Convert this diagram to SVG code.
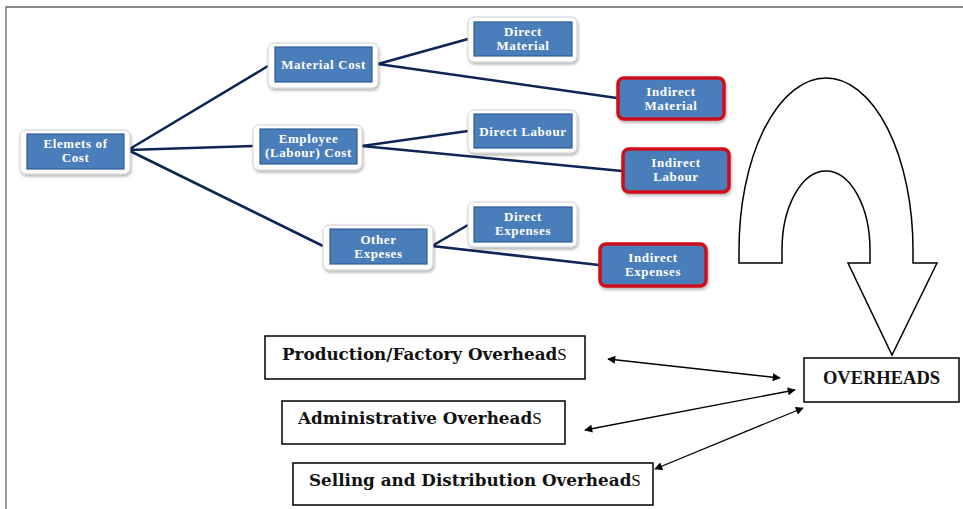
<svg xmlns="http://www.w3.org/2000/svg" width="963" height="509" viewBox="0 0 963 509">
<style>
.halo{fill:#fff;stroke:#d0d0d0;stroke-width:1;filter:url(#sh)}
.blue{fill:#4A7EBB;stroke:#2F5C92;stroke-width:1.2}
.red{fill:#4A7EBB;stroke:#D0101A;stroke-width:3.5;filter:url(#sh)}
.bt{font-family:"Liberation Serif","DejaVu Serif",serif;font-weight:bold;font-size:13px;letter-spacing:0.6px;fill:#fff;text-anchor:middle}
.tree{stroke:#0E2556;stroke-width:2.6;fill:none}
.box{fill:#fff;stroke:#000;stroke-width:1.5}
.ot{font-family:"DejaVu Serif","Liberation Serif",serif;font-weight:bold;font-size:16.8px;fill:#111}
.s{font-family:"Liberation Serif",serif;font-weight:normal;font-size:17px}
.dbl{stroke:#000;stroke-width:1.3;fill:none;marker-start:url(#ah);marker-end:url(#ah)}
</style>
<defs>
<filter id="sh" x="-20%" y="-20%" width="140%" height="150%">
<feDropShadow dx="1" dy="2" stdDeviation="1.5" flood-color="#000" flood-opacity="0.3"/>
</filter>
<marker id="ah" viewBox="0 0 10 10" refX="9" refY="5" markerWidth="10" markerHeight="8" markerUnits="userSpaceOnUse" orient="auto-start-reverse">
<path d="M0,0 L10,5 L0,10 z" fill="#000"/>
</marker>
</defs>
<rect width="963" height="509" fill="#fff"/>
<path d="M6,509 V7 H963" fill="none" stroke="#666" stroke-width="1.3"/>

<g id="connectors">
<path class="tree" d="M128,150 L268,66 M128,150 L253,146 M128,150 L323,246"/>
<path class="tree" d="M378,64 L468,39 M378,64 L617,98"/>
<path class="tree" d="M362,146 L468,131 M362,146 L622,171"/>
<path class="tree" d="M432,246 L468,225 M432,246 L599,265"/>
<line class="dbl" x1="608" y1="359" x2="780" y2="378"/>
<line class="dbl" x1="585" y1="430" x2="795" y2="390"/>
<line class="dbl" x1="655" y1="469" x2="803" y2="408"/>
</g>

<g id="elements">
<rect class="halo" x="20" y="130" width="110" height="44" rx="6"/>
<rect class="blue" x="27" y="134" width="97" height="35"/>
<text class="bt" x="75.5" y="148">Elemets of</text>
<text class="bt" x="75.5" y="162">Cost</text>
</g>
<g id="material-cost">
<rect class="halo" x="268" y="43" width="110" height="45" rx="6"/>
<rect class="blue" x="275" y="47" width="97" height="35"/>
<text class="bt" x="323.5" y="69">Material Cost</text>
</g>
<g id="employee-cost">
<rect class="halo" x="253" y="125" width="109" height="45" rx="6"/>
<rect class="blue" x="260" y="129" width="97" height="35"/>
<text class="bt" x="308.5" y="143">Employee</text>
<text class="bt" x="308.5" y="157">(Labour) Cost</text>
</g>
<g id="other-expenses">
<rect class="halo" x="323" y="225" width="110" height="45" rx="6"/>
<rect class="blue" x="330" y="229" width="97" height="35"/>
<text class="bt" x="378.5" y="244">Other</text>
<text class="bt" x="378.5" y="258">Expeses</text>
</g>
<g id="direct-material">
<rect class="halo" x="468" y="17" width="109" height="45" rx="6"/>
<rect class="blue" x="474" y="22" width="98" height="34"/>
<text class="bt" x="523" y="35.5">Direct</text>
<text class="bt" x="523" y="49.5">Material</text>
</g>
<g id="indirect-material">
<rect class="red" x="618" y="78" width="106" height="41" rx="6"/>
<text class="bt" x="671" y="95.5">Indirect</text>
<text class="bt" x="671" y="109.5">Material</text>
</g>
<g id="direct-labour">
<rect class="halo" x="468" y="110" width="109" height="43" rx="6"/>
<rect class="blue" x="474" y="114" width="98" height="34"/>
<text class="bt" x="523" y="136">Direct Labour</text>
</g>
<g id="indirect-labour">
<rect class="red" x="623" y="149" width="106" height="43" rx="6"/>
<text class="bt" x="676" y="166.5">Indirect</text>
<text class="bt" x="676" y="180.5">Labour</text>
</g>
<g id="direct-expenses">
<rect class="halo" x="468" y="202" width="109" height="45" rx="6"/>
<rect class="blue" x="474" y="207" width="98" height="35"/>
<text class="bt" x="523" y="220.5">Direct</text>
<text class="bt" x="523" y="234.5">Expenses</text>
</g>
<g id="indirect-expenses">
<rect class="red" x="600" y="244" width="106" height="42" rx="6"/>
<text class="bt" x="653" y="261.5">Indirect</text>
<text class="bt" x="653" y="275.5">Expenses</text>
</g>

<g id="u-arrow">
<path d="M739,263 L739,250 A87,172 0 0 1 913,250 L913,263 L937,263 L892,355 L848,263 L870,263 L870,250 A44,79 0 0 0 782,250 L782,263 Z" fill="#fff" stroke="#000" stroke-width="1.5" stroke-linejoin="miter"/>
</g>

<g id="overheads">
<rect class="box" x="804" y="358" width="155" height="44"/>
<text x="881.5" y="384" text-anchor="middle" style="font-family:'Liberation Serif',serif;font-weight:bold;font-size:18.5px;fill:#111">OVERHEADS</text>
</g>
<g id="production-overheads">
<rect class="box" x="265" y="336" width="320" height="43"/>
<text class="ot" x="282" y="360">Production/Factory Overhead<tspan class="s">S</tspan></text>
</g>
<g id="administrative-overheads">
<rect class="box" x="282" y="401" width="283" height="43"/>
<text class="ot" x="298" y="424">Administrative Overhead<tspan class="s">S</tspan></text>
</g>
<g id="selling-overheads">
<rect class="box" x="293" y="463" width="360" height="42"/>
<text class="ot" x="309" y="486">Selling and Distribution Overhead<tspan class="s">S</tspan></text>
</g>
</svg>
